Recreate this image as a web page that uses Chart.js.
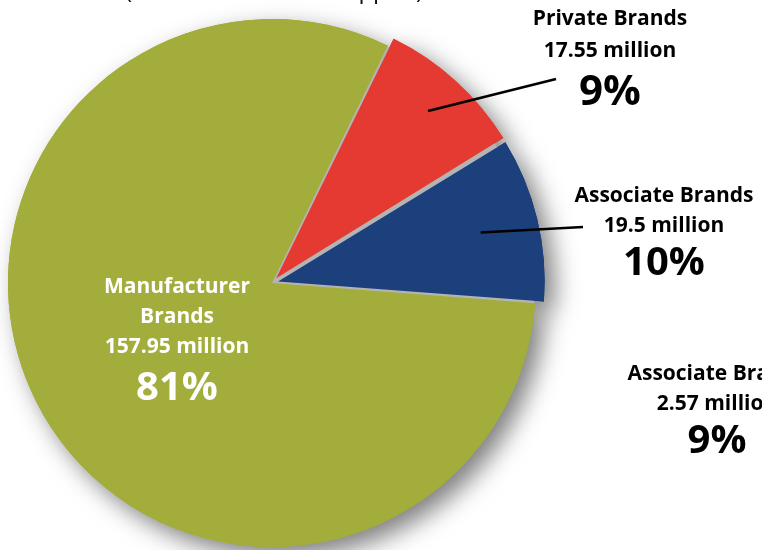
<!DOCTYPE html>
<html>
<head>
<meta charset="utf-8">
<script src="https://cdn.jsdelivr.net/npm/chart.js@4"></script>
<style>
  html, body { margin: 0; padding: 0; background: #fff; }
  #wrap { width: 762px; height: 550px; overflow: hidden; }
</style>
</head>
<body>
<div id="wrap"><canvas id="brandsChart" width="762" height="550"></canvas></div>
<script>
// millions of cases by brand type
const categories = ['Private Brands', 'Associate Brands', 'Manufacturer Brands'];
const millions = [17.55, 19.5, 157.95];
const sliceColors = ['#e43a31', '#1b407c', '#a3ad3b'];
const pulledOut = [25, 25, 0];

// text that sits around the pie
const titleText = '(Millions of Cases Shipped)';
const sideNote = ['Associate Brands', '2.57 million', '9%'];

const total = millions.reduce((a, b) => a + b, 0);
const percents = millions.map(v => Math.round(v / total * 100) + '%');

const FONT = '"Open Sans", "Lato", sans-serif';

// how far ArcElement actually moves a slice for a given offset
function shift(arc) {
  const off = (arc.options.offset || 0) / 4;
  const fix = 1 - Math.sin(Math.min(Math.PI, arc.circumference || 0));
  return off * (1 + fix);
}

function sliceCenter(arc) {
  const mid = (arc.startAngle + arc.endAngle) / 2;
  const d = shift(arc);
  return { x: arc.x + Math.cos(mid) * d, y: arc.y + Math.sin(mid) * d, mid: mid };
}

const shadowPlugin = {
  id: 'pieShadow',
  beforeDatasetsDraw(chart) {
    const ctx = chart.ctx;
    const arcs = chart.getDatasetMeta(0).data;
    ctx.save();
    ctx.shadowColor = 'rgba(0,0,0,0.5)';
    ctx.shadowBlur = 24;
    ctx.shadowOffsetX = 10;
    ctx.shadowOffsetY = 10;
    arcs.forEach(a => a.draw(ctx));
    ctx.restore();

    // grey seams show through between the pulled-out slices
    const c = arcs[0];
    ctx.save();
    ctx.fillStyle = '#b4b4b4';
    ctx.beginPath();
    ctx.arc(c.x, c.y, c.outerRadius - 1, 0, Math.PI * 2);
    ctx.fill();
    ctx.restore();
  }
};

function textBlock(ctx, lines, x, color) {
  ctx.fillStyle = color;
  ctx.textAlign = 'center';
  ctx.textBaseline = 'alphabetic';
  lines.forEach(l => {
    ctx.font = '700 ' + l.size + 'px ' + FONT;
    ctx.fillText(l.text, x, l.y);
  });
}

const labelPlugin = {
  id: 'sliceLabels',
  afterDatasetsDraw(chart) {
    const ctx = chart.ctx;
    const arcs = chart.getDatasetMeta(0).data;
    ctx.save();

    // cut-off heading along the top edge
    ctx.fillStyle = '#111';
    ctx.textAlign = 'center';
    ctx.font = '400 24px ' + FONT;
    ctx.fillText(titleText, 274, -2);

    // leader lines
    ctx.strokeStyle = '#000';
    ctx.lineWidth = 2.5;
    const leaders = [
      { i: 0, r: 0.845, to: [556, 79] },
      { i: 1, r: 0.78, to: [583, 227] }
    ];
    leaders.forEach(l => {
      const arc = arcs[l.i];
      const c = sliceCenter(arc);
      const r = arc.outerRadius * l.r;
      ctx.beginPath();
      ctx.moveTo(c.x + Math.cos(c.mid) * r, c.y + Math.sin(c.mid) * r);
      ctx.lineTo(l.to[0], l.to[1]);
      ctx.stroke();
    });

    textBlock(ctx, [
      { text: categories[0], size: 21, y: 25 },
      { text: millions[0] + ' million', size: 21, y: 57 },
      { text: percents[0], size: 42, y: 105 }
    ], 610, '#000');

    textBlock(ctx, [
      { text: categories[1], size: 21, y: 202 },
      { text: millions[1] + ' million', size: 21, y: 232 },
      { text: percents[1], size: 40, y: 275 }
    ], 664, '#000');

    textBlock(ctx, [
      { text: 'Manufacturer', size: 21, y: 293 },
      { text: 'Brands', size: 21, y: 323 },
      { text: millions[2] + ' million', size: 21, y: 353 },
      { text: percents[2], size: 40, y: 400 }
    ], 177, '#fff');

    textBlock(ctx, [
      { text: sideNote[0], size: 21, y: 380 },
      { text: sideNote[1], size: 21, y: 410 },
      { text: sideNote[2], size: 40, y: 453 }
    ], 717, '#000');

    ctx.restore();
  }
};

new Chart(document.getElementById('brandsChart'), {
  type: 'pie',
  data: {
    labels: categories,
    datasets: [{
      data: millions,
      backgroundColor: sliceColors,
      borderWidth: 0,
      offset: pulledOut,
      hoverOffset: 0
    }]
  },
  options: {
    responsive: false,
    animation: false,
    rotation: 26,
    radius: 264,
    layout: { padding: { left: 0, right: 218, top: 16, bottom: 0 } },
    plugins: {
      legend: { display: false },
      tooltip: { enabled: false }
    }
  },
  plugins: [shadowPlugin, labelPlugin]
});
</script>
</body>
</html>
